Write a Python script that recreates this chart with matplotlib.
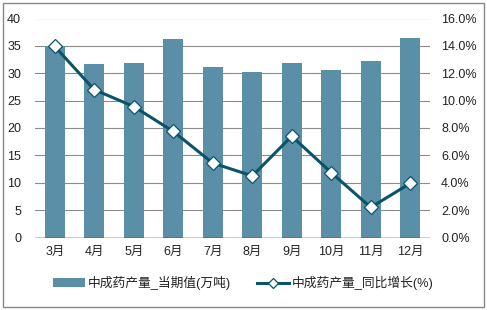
import matplotlib
matplotlib.use("Agg")
import matplotlib.pyplot as plt
from matplotlib.patches import Rectangle
from matplotlib.ticker import FuncFormatter

plt.rcParams['font.family'] = ['Liberation Sans', 'Noto Sans CJK SC', 'DejaVu Sans']

months = ['3月', '4月', '5月', '6月', '7月', '8月', '9月', '10月', '11月', '12月']
output = [35.0, 31.7, 31.9, 36.3, 31.1, 30.2, 31.9, 30.6, 32.2, 36.4]
growth = [13.96, 10.8, 9.57, 7.75, 5.44, 4.5, 7.4, 4.74, 2.2, 3.96]
bar_label = '中成药产量_当期值(万吨)'
line_label = '中成药产量_同比增长(%)'

W, H = 487, 310
fig = plt.figure(figsize=(W/100, H/100), dpi=100)
ax = fig.add_axes([35/W, 1-237.5/H, 395/W, 219/H])
ax2 = ax.twinx()

x = list(range(len(months)))
bars = ax.bar(x, output, width=0.5, color='#5B8FA8', zorder=2, label=bar_label)
ax.set_ylim(0, 40)
ax.set_yticks(range(0, 41, 5))
ax.set_xlim(-0.5, len(months)-0.5)
ax.set_xticks(x)
ax.set_xticklabels(months)
ax.grid(axis='y', color='#8c8c8c', linewidth=0.8, zorder=0)
ax.set_axisbelow(True)

ln, = ax2.plot(x, growth, color='#0B5369', linewidth=2.2, marker='D', markersize=7,
               markerfacecolor='white', markeredgecolor='#0B5369', markeredgewidth=0.9,
               zorder=5, label=line_label)
ax2.set_ylim(0, 16)
ax2.set_yticks(range(0, 17, 2))
ax2.yaxis.set_major_formatter(FuncFormatter(lambda v, p: f'{v:.1f}%'))

for a in (ax, ax2):
    for s in ['left', 'right', 'top']:
        a.spines[s].set_visible(False)
    a.spines['bottom'].set_visible(False)
    a.tick_params(length=0, labelsize=9, colors='#222222')
ax.axhline(0, color='#222222', linewidth=1.0, zorder=3)
ax.tick_params(axis='y', pad=10)
ax.tick_params(axis='x', pad=6)
ax2.tick_params(axis='y', pad=8)

leg = fig.legend([bars, ln], [bar_label, line_label], loc='center', bbox_to_anchor=(0.5, 1-283/H),
                 ncol=2, frameon=False, fontsize=9.2, handlelength=2.5, columnspacing=2.0,
                 handletextpad=0.25, markerscale=0.75)
for t in leg.get_texts():
    t.set_color('#222222')

fig.patches.append(Rectangle((3/W, 3/H), 1-6/W, 1-6/H, transform=fig.transFigure,
                             fill=False, edgecolor='#888888', linewidth=1.0))

fig.savefig('out.png', dpi=100)
